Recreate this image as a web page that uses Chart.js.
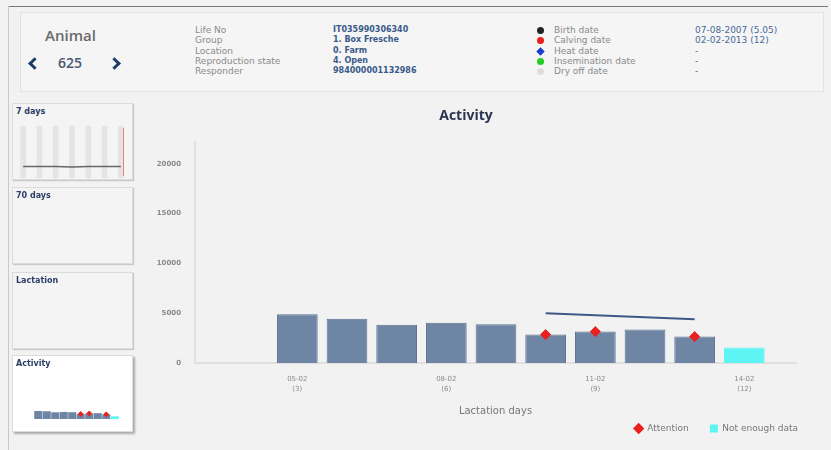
<!DOCTYPE html>
<html>
<head>
<meta charset="utf-8">
<script src="https://cdn.jsdelivr.net/npm/chart.js@4/dist/chart.umd.min.js"></script>
<style>
  html, body { margin: 0; padding: 0; }
  body { width: 831px; height: 450px; overflow: hidden; background: #f2f2f2; position: relative;
         font-family: "DejaVu Sans", sans-serif; }
  .abs { position: absolute; }
  #topline { left: 8px; top: 6px; width: 820px; height: 1px; background: #7a7a7a; }
  #leftline { left: 8px; top: 6px; width: 1px; height: 444px; background: #c8c8c8; }
  #header { left: 20px; top: 12px; width: 802px; height: 78px; background: #f5f5f5; border: 1px solid #e2e2e2; }
  #animal { left: 45px; top: 25px; font-family: "Open Sans"; font-size: 15px; font-weight: 600; color: #6a6a6a; }
  .chev { top: 59px; width: 6px; height: 6px; border-top: 3px solid #1e3a6a; border-left: 3px solid #1e3a6a; }
  #num { left: 58px; top: 53px; font-family: "Open Sans"; font-size: 14px; font-weight: 600; color: #4a5870; }
  .col { top: 25px; font-size: 9px; line-height: 10.3px; white-space: nowrap; }
  .lbl { color: #8a8a8a; }
  .val { color: #3a5a8a; font-weight: 700; font-size: 8px; }
  .dot { display: inline-block; width: 7px; height: 7px; border-radius: 50%; margin-right: 10px; vertical-align: -1px; }
  .box { left: 12px; width: 119px; height: 75px; background: #f4f4f4; border: 1px solid #dcdcdc;
         box-shadow: 1px 1px 1px #c8c8c8; }
  .box span { position: absolute; left: 3px; top: 3px; font-size: 8px; font-weight: 700; color: #2c3e66; }
  #main { left: 130px; top: 100px; }
</style>
</head>
<body>
<div id="topline" class="abs"></div>
<div id="leftline" class="abs"></div>
<div id="header" class="abs"></div>
<div id="animal" class="abs">Animal</div>
<div class="abs chev" style="left:30px;transform:rotate(-45deg)"></div>
<div id="num" class="abs">625</div>
<div class="abs chev" style="left:110px;transform:rotate(135deg)"></div>

<div class="abs col lbl" style="left:195px">Life No<br>Group<br>Location<br>Reproduction state<br>Responder</div>
<div class="abs col val" style="left:333px">IT035990306340<br>1. Box Fresche<br>0. Farm<br>4. Open<br>984000001132986</div>
<div class="abs col lbl" style="left:537px">
  <span class="dot" style="background:#222"></span>Birth date<br>
  <span class="dot" style="background:#e8201e"></span>Calving date<br>
  <span class="dot" style="background:#1a3fd0;border-radius:0;transform:rotate(45deg) scale(0.85)"></span>Heat date<br>
  <span class="dot" style="background:#22cc22"></span>Insemination date<br>
  <span class="dot" style="background:#dddddd"></span>Dry off date
</div>
<div class="abs col" style="left:695px;color:#4a6a9a">07-08-2007 (5.05)<br>02-02-2013 (12)<br>-<br>-<br>-</div>

<div class="abs box" style="top:103px"><span>7 days</span>
  <canvas id="mini7" class="abs" style="left:2px;top:22px"></canvas>
  <div class="abs" style="left:110px;top:24px;width:1px;height:48px;background:#f08080"></div></div>
<div class="abs box" style="top:187px"><span>70 days</span></div>
<div class="abs box" style="top:272px"><span>Lactation</span></div>
<div class="abs box" style="top:355px;background:#fff;box-shadow:2px 2px 2px #aaa"><span>Activity</span>
  <canvas id="miniAct" class="abs" style="left:16px;top:50px"></canvas></div>

<canvas id="main" class="abs"></canvas>

<script>
// days since calving shown on the x axis
const dates = ['05-02', '06-02', '07-02', '08-02', '09-02', '10-02', '11-02', '12-02', '13-02', '14-02'];
const lactDays = [3, 4, 5, 6, 7, 8, 9, 10, 11, 12];
const activity = [4900, 4450, 3850, 4050, 3900, 2850, 3150, 3350, 2650, 1550];
const attention = [false, false, false, false, false, true, true, false, true, false];
const notEnoughData = [false, false, false, false, false, false, false, false, false, true];
const trendIdx = [5, 8];
const trendValues = [5000, 4400];
const yTicks = [0, 5000, 10000, 15000, 20000];
const tickIdx = [0, 3, 6, 9];

// 7 days thumbnail
const sevenDayShade = [1, 1, 1, 1, 1, 1, 1];
const sevenDayLine = [0.22, 0.22, 0.22, 0.21, 0.22, 0.22, 0.22];

const barBlue = '#6e86a4';
const cyan = '#5ff4f4';
const red = '#e8201e';

function setSize(id, w, h) {
  const c = document.getElementById(id);
  c.width = w; c.height = h;
  c.style.width = w + 'px'; c.style.height = h + 'px';
  return c;
}

const barData = activity.map((v, i) => ({x: i, y: v}));
const attData = activity.map((v, i) => ({x: i, y: v})).filter((d, i) => attention[i]);
const trendData = trendIdx.map((x, i) => ({x: x, y: trendValues[i]}));

new Chart(setSize('main', 672, 345), {
  data: {
    datasets: [
      {
        type: 'line',
        label: 'Trend',
        data: trendData,
        borderColor: '#3d5888',
        borderWidth: 2,
        pointRadius: 0,
        order: 1
      },
      {
        type: 'line',
        label: 'Attention',
        data: attData,
        showLine: false,
        pointStyle: 'rectRot',
        pointRadius: 5,
        backgroundColor: red,
        borderColor: red,
        order: 0
      },
      {
        type: 'bar',
        label: 'Activity',
        data: barData,
        backgroundColor: notEnoughData.map(n => n ? cyan : barBlue),
        borderColor: notEnoughData.map(n => n ? cyan : '#5c7392'),
        borderWidth: 1,
        categoryPercentage: 1,
        barPercentage: 0.82,
        order: 2
      }
    ]
  },
  options: {
    responsive: false,
    animation: false,
    layout: { padding: { left: 0, right: 0, top: 0, bottom: 2 } },
    plugins: {
      title: {
        display: true,
        text: 'Activity',
        color: '#2c3550',
        font: { size: 14, weight: 'bold', family: 'Open Sans' },
        padding: { top: 8, bottom: 17 }
      },
      legend: {
        position: 'bottom',
        align: 'end',
        labels: {
          usePointStyle: true,
          boxWidth: 8,
          boxHeight: 8,
          padding: 4,
          color: '#777',
          font: { size: 9, family: 'DejaVu Sans' },
          generateLabels: () => [
            { text: 'Attention      ', pointStyle: 'rectRot', fillStyle: red, strokeStyle: red, lineWidth: 0, fontColor: '#777' },
            { text: 'Not enough data', pointStyle: 'rect', fillStyle: cyan, strokeStyle: cyan, lineWidth: 0, fontColor: '#777' }
          ]
        },
        onClick: () => {}
      },
      tooltip: { enabled: false }
    },
    scales: {
      x: {
        type: 'linear',
        offset: false,
        min: -2.06,
        max: 10.04,
        grid: { display: false },
        border: { display: true, color: '#e0e0e0', width: 2 },
        afterBuildTicks: (s) => { s.ticks = tickIdx.map(v => ({value: v})); },
        afterFit: (s) => { s.height = 57; },
        ticks: {
          color: '#8a8a8a',
          font: { size: 7, family: 'DejaVu Sans', lineHeight: 1.45 },
          padding: 3,
          maxRotation: 0,
          callback: (v) => [dates[v], '(' + lactDays[v] + ')']
        },
        title: {
          display: true,
          text: 'Lactation days',
          color: '#777',
          font: { size: 10, family: 'DejaVu Sans' },
          padding: { top: 4, bottom: 3 }
        }
      },
      y: {
        min: 0,
        max: 22200,
        grid: { display: false },
        border: { display: true, color: '#e0e0e0', width: 2 },
        afterBuildTicks: (s) => { s.ticks = yTicks.map(v => ({value: v})); },
        afterFit: (s) => { s.width = 65; },
        ticks: {
          color: '#8a8a8a',
          font: { size: 7, weight: 'bold', family: 'DejaVu Sans' },
          padding: 6,
          callback: (v) => String(v)
        }
      }
    }
  }
});

// 7 days thumbnail
new Chart(setSize('mini7', 114, 52), {
  data: {
    labels: sevenDayShade.map((_, i) => i),
    datasets: [
      { type: 'line', data: sevenDayLine, borderColor: '#666', borderWidth: 1.5, pointRadius: 0 },
      { type: 'bar', data: sevenDayShade, backgroundColor: '#e4e4e4', barPercentage: 0.35, categoryPercentage: 1 }
    ]
  },
  options: {
    responsive: false, animation: false,
    plugins: { legend: { display: false }, tooltip: { enabled: false } },
    scales: { x: { display: false }, y: { display: false, min: 0, max: 1 } }
  }
});

// activity thumbnail
new Chart(setSize('miniAct', 95, 18), {
  data: {
    labels: dates,
    datasets: [
      { type: 'line', data: activity.map((v, i) => attention[i] ? v : null), showLine: false,
        pointStyle: 'rectRot', pointRadius: 2.5, backgroundColor: red, borderColor: red },
      { type: 'bar', data: activity, backgroundColor: notEnoughData.map(n => n ? cyan : barBlue),
        barPercentage: 0.95, categoryPercentage: 1 }
    ]
  },
  options: {
    responsive: false, animation: false,
    plugins: { legend: { display: false }, tooltip: { enabled: false } },
    scales: { x: { display: false }, y: { display: false, min: 0, max: 4600 } }
  }
});
</script>
</body>
</html>
